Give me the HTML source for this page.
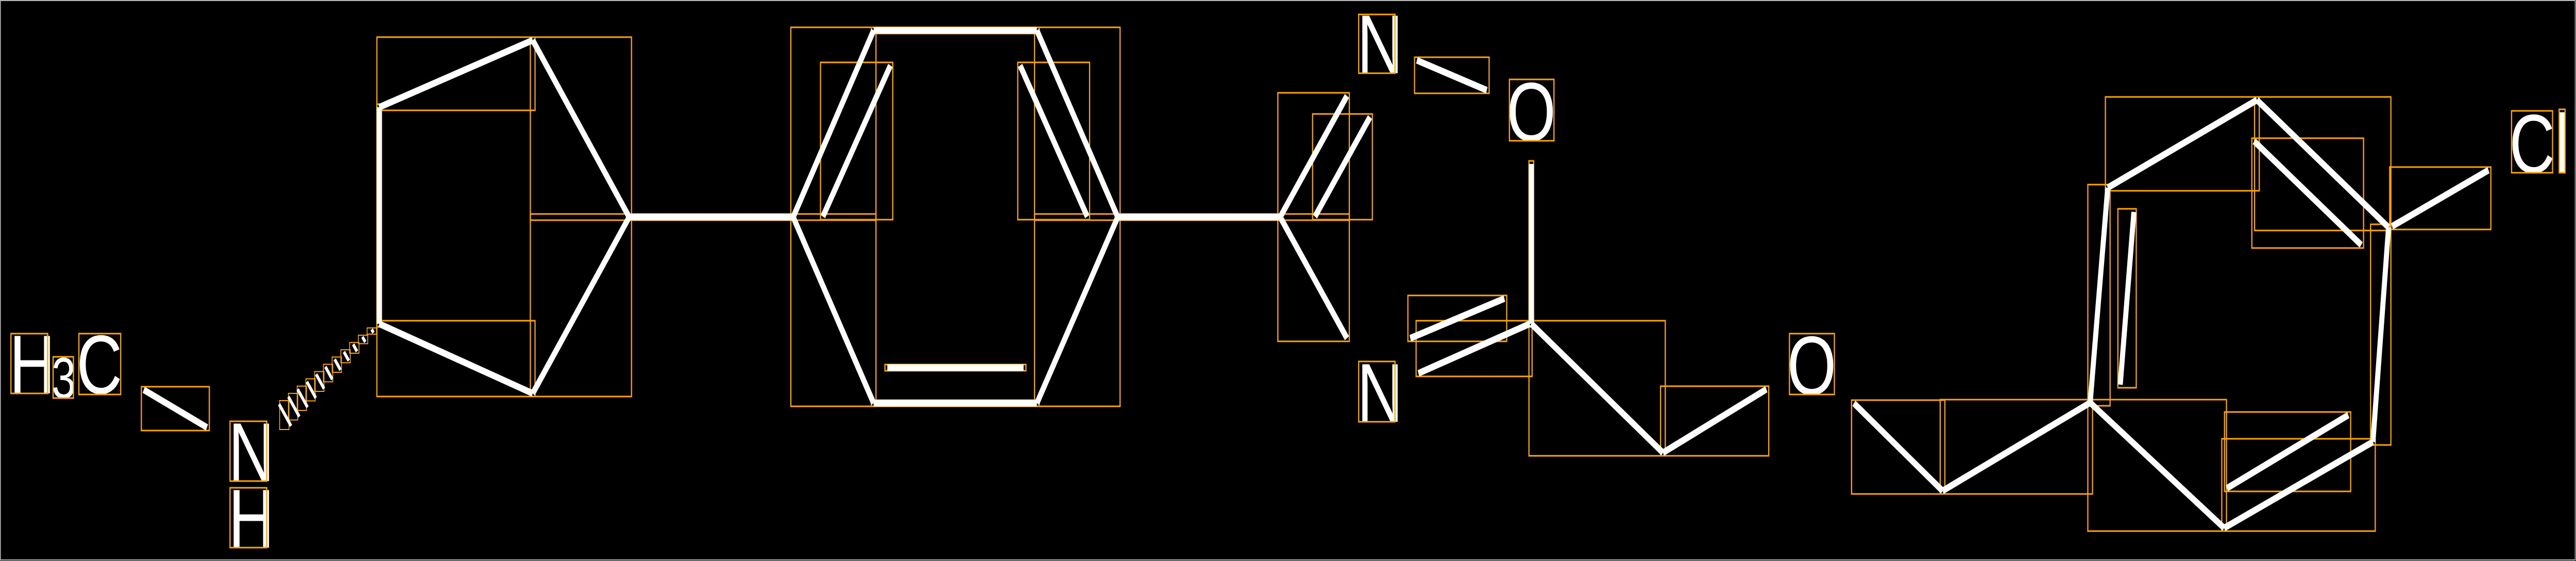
<!DOCTYPE html>
<html><head><meta charset="utf-8">
<style>
html,body{margin:0;padding:0;background:#000;width:100%;height:100%;overflow:hidden;}
svg{display:block;position:fixed;left:0;top:0;width:100vw;height:100vh;}
text{font-family:"Liberation Sans",sans-serif;fill:#fff;}
</style></head>
<body>
<svg id="s" viewBox="0 0 6596 1088" preserveAspectRatio="none" xmlns="http://www.w3.org/2000/svg">
<rect x="0" y="0" width="6596" height="1088" fill="#000"/>
<rect x="1" y="1" width="6593" height="1085" fill="none" stroke="#bbb" stroke-width="2"/>
<g id="boxes" fill="none" stroke="#FFA500" stroke-width="3"></g>
<g id="bonds" stroke="#fff" stroke-width="13" stroke-linecap="butt" fill="none"></g>
<g id="hash" stroke="#fff" stroke-width="7"></g>
<g font-size="162">
<text x="24" y="763">H</text>
<text x="132" y="772" font-size="112">3</text>
<text x="196" y="763">C</text>
<text x="585" y="933">N</text>
<text x="585" y="1062">H</text>
<text x="3475" y="142">N</text>
<text x="3858" y="273">O</text>
<text x="3475" y="818">N</text>
<text x="4576" y="765">O</text>
<text x="6425" y="335">Cl</text>
</g>
<g fill="none" stroke="#FFA500" stroke-width="3">
<rect x="28" y="647" width="94" height="116"/>
<rect x="136" y="692" width="52" height="80"/>
<rect x="202" y="647" width="107" height="118"/>
<rect x="589" y="817" width="94" height="116"/>
<rect x="589" y="946" width="94" height="116"/>
<rect x="3479" y="28" width="93" height="114"/>
<rect x="3865" y="154" width="114" height="119"/>
<rect x="3479" y="701" width="93" height="117"/>
<rect x="4582" y="647" width="115" height="118"/>
<rect x="6431" y="215" width="105" height="120"/>
<rect x="6553" y="212" width="15" height="123"/>
</g>
</svg>
<script>
var L=[
[368,756,530,829],
[1364,78,971,208],[971,208,971,628],[971,628,1364,763],[1364,763,1611,421],[1611,421,1364,78],
[1611,421,2031,421],
[2031,421,2237,59],[2237,59,2655,59],[2655,59,2862,421],[2862,421,2655,782],[2655,782,2237,782],[2237,782,2031,421],
[2107,420,2280,127],[2612,127,2784,420],[2272,713,2621,713],
[2862,421,3278,421],
[3278,421,3449,186],[3367,420,3508,227],[3278,421,3449,656],
[3628,117,3807,175],
[3921,318,3921,628],
[3611,656,3852,579],[3632,724,3917,628],
[3921,628,4258,878],[4258,878,4523,755],
[4747,782,4974,952],[4974,952,5352,781],
[5352,781,5397,364],[5397,364,5779,194],[5779,194,6116,441],[6116,441,6076,857],[6076,857,5695,1024],[5695,1024,5352,781],
[5464,411,5429,746],[5772,274,6046,475],[5702,947,6013,805],
[6125,439,6372,330]
];
var NS="http://www.w3.org/2000/svg";
var b=document.getElementById('bonds'),bx=document.getElementById('boxes');
L.forEach(function(l){
 var e=document.createElementNS(NS,'line');
 e.setAttribute('x1',l[0]);e.setAttribute('y1',l[1]);e.setAttribute('x2',l[2]);e.setAttribute('y2',l[3]);
 b.appendChild(e);
 var x=Math.min(l[0],l[2])-6,y=Math.min(l[1],l[3])-6,w=Math.abs(l[0]-l[2])+12,h=Math.abs(l[1]-l[3])+12;
 var r=document.createElementNS(NS,'rect');
 r.setAttribute('x',x);r.setAttribute('y',y);r.setAttribute('width',w);r.setAttribute('height',h);
 bx.appendChild(r);
});
var hg=document.getElementById('hash');
var x0=954,y0=642,x1=730,y1=805,n=11;
var dx=x1-x0,dy=y1-y0,len=Math.sqrt(dx*dx+dy*dy),px=-dy/len,py=dx/len;
for(var i=0;i<n;i++){
 var t=i/(n-1),cx=x0+dx*t,cy=y0+dy*t,hw=4+t*22;
 var e=document.createElementNS(NS,'line');
 e.setAttribute('x1',cx+px*hw);e.setAttribute('y1',cy+py*hw);
 e.setAttribute('x2',cx-px*hw);e.setAttribute('y2',cy-py*hw);
 hg.appendChild(e);
 var r=document.createElementNS(NS,'rect');
 r.setAttribute('x',cx-14);r.setAttribute('y',cy-hw-2);r.setAttribute('width',24);r.setAttribute('height',2*hw+4);
 r.setAttribute('fill','none');r.setAttribute('stroke','#FFA500');r.setAttribute('stroke-width','2');
 bx.appendChild(r);
}
</script>
</body></html>
